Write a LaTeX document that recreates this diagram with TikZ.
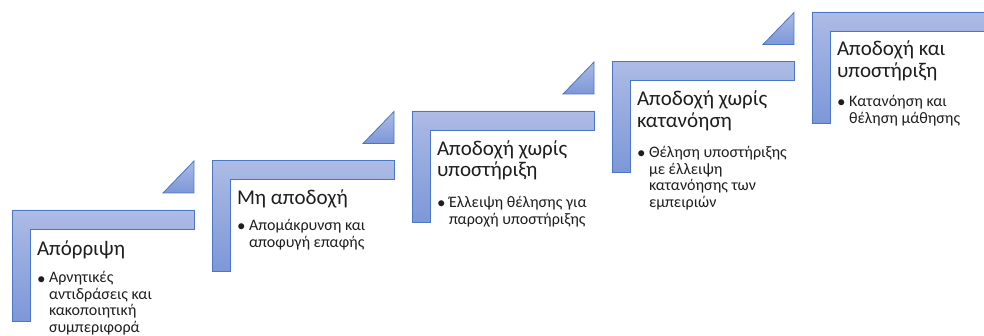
\documentclass[tikz,border=0pt]{standalone}
\usepackage{fontspec}
\setmainfont{Carlito}
\newcommand\linesT[1]{\begin{tabular}[t]{@{}l@{}}#1\end{tabular}}
\begin{document}
\begin{tikzpicture}[x=1pt,y=-1pt,
  stepfill/.style={draw=stepline,line width=0.8pt,top color=steptop,bottom color=stepbot,line join=miter},
  ttl/.style={anchor=base west,inner sep=0pt,outer sep=0pt,text=txt,font=\fontsize{21}{21.5}\selectfont},
  bul/.style={anchor=base west,inner sep=0pt,outer sep=0pt,text=txt,font=\fontsize{16}{16.4}\selectfont},
  dot/.style={anchor=base west,inner sep=0pt,outer sep=0pt,text=txt,font=\fontsize{17}{17}\selectfont},
]
\definecolor{stepline}{HTML}{4A76C6}
\definecolor{steptop}{HTML}{ADBBE5}
\definecolor{stepbot}{HTML}{7D97D8}
\definecolor{txt}{HTML}{1E1E1E}
\useasboundingbox (0,0) rectangle (984,336);
\clip (0,0) rectangle (984,336);
% step shapes
\foreach \ox/\oy [count=\i] in {12/210,212/160.5,412/111,612/61.5,812/12}{
  \path[stepfill] (\ox,\oy) -- (\ox+182,\oy) -- (\ox+182,\oy+19) -- (\ox+18,\oy+19)
     -- (\ox+18,\oy+111) -- (\ox,\oy+111) -- cycle;
}
\foreach \ox/\oy in {12/210,212/160.5,412/111,612/61.5}{
  \path[stepfill] (\ox+151,\oy-17) -- (\ox+182,\oy-17) -- (\ox+182,\oy-49) -- cycle;
}
% step 1
\node[ttl] (t1) at (37,255.5) {Απόρριψη};
\node[dot] (d1) at (37,284) {•};
\node[bul] (b1) at (49,283) {\linesT{Αρνητικές\\αντιδράσεις και\\κακοποιητική\\συμπεριφορά}};
% step 2
\node[ttl] (t2) at (237,205) {Μη αποδοχή};
\node[dot] (d2) at (237,232) {•};
\node[bul] (b2) at (249,231) {\linesT{Απομάκρυνση και\\αποφυγή επαφής}};
% step 3
\node[ttl] (t3) at (437,155.5) {\linesT{Αποδοχή χωρίς\\υποστήριξη}};
\node[dot] (d3) at (437,209) {•};
\node[bul] (b3) at (449,208) {\linesT{Έλλειψη θέλησης για\\παροχή υποστήριξης}};
% step 4
\node[ttl] (t4) at (637,106) {\linesT{Αποδοχή χωρίς\\κατανόηση}};
\node[dot] (d4) at (637,159) {•};
\node[bul] (b4) at (649,158) {\linesT{Θέληση υποστήριξης\\με έλλειψη\\κατανόησης των\\εμπειριών}};
% step 5
\node[ttl] (t5) at (837,56) {\linesT{Αποδοχή και\\υποστήριξη}};
\node[dot] (d5) at (837,108) {•};
\node[bul] (b5) at (849,107) {\linesT{Κατανόηση και\\θέληση μάθησης}};
\end{tikzpicture}
\end{document}
